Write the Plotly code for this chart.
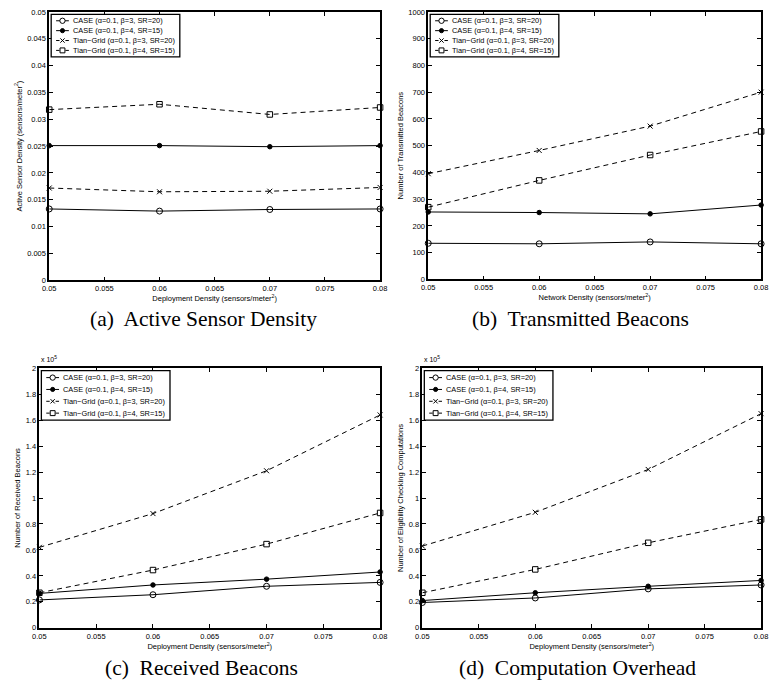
import plotly.graph_objects as go

x_vals = [0.05, 0.06, 0.07, 0.08]
series_names = ["CASE (α=0.1, β=3, SR=20)", "CASE (α=0.1, β=4, SR=15)",
                "Tian−Grid (α=0.1, β=3, SR=20)", "Tian−Grid (α=0.1, β=4, SR=15)"]

# (a) Active sensor density
a_case3 = [0.0133, 0.0129, 0.0132, 0.0133]
a_case4 = [0.0251, 0.0251, 0.0249, 0.0251]
a_tian3 = [0.0172, 0.0165, 0.0166, 0.0173]
a_tian4 = [0.0318, 0.0328, 0.0309, 0.0322]
# (b) Transmitted beacons
b_case3 = [135, 133, 140, 133]
b_case4 = [252, 250, 245, 278]
b_tian3 = [395, 482, 573, 700]
b_tian4 = [270, 370, 465, 553]
# (c) Received beacons (x 10^5)
c_case3 = [0.215, 0.255, 0.32, 0.35]
c_case4 = [0.265, 0.33, 0.375, 0.43]
c_tian3 = [0.62, 0.88, 1.21, 1.64]
c_tian4 = [0.27, 0.445, 0.645, 0.885]
# (d) Computation overhead (x 10^5)
d_case3 = [0.195, 0.23, 0.30, 0.33]
d_case4 = [0.21, 0.27, 0.32, 0.365]
d_tian3 = [0.63, 0.89, 1.22, 1.65]
d_tian4 = [0.27, 0.45, 0.655, 0.835]

x_ticks = [0.05, 0.055, 0.06, 0.065, 0.07, 0.075, 0.08]
x_ticklabels = ["0.05", "0.055", "0.06", "0.065", "0.07", "0.075", "0.08"]

W, H = 774, 695
def px(v):
    return v / W
def py(v):
    return 1 - v / H

# plot boxes in pixels: left, right, top, bottom
panels = [
    dict(data=[a_case3, a_case4, a_tian3, a_tian4], yrange=[0, 0.05], dtick=0.005,
         xtitle="Deployment Density (sensors/meter<sup>2</sup>)",
         ytitle="Active Sensor Density (sensors/meter<sup>2</sup>)",
         caption="(a)  Active Sensor Density", cap=(200, 319),
         box=(43, 380, 8, 280), exp=False, leg_gap=10.0, leg_h=43),
    dict(data=[b_case3, b_case4, b_tian3, b_tian4], yrange=[0, 1000], dtick=100,
         xtitle="Network Density (sensors/meter<sup>2</sup>)",
         ytitle="Number of Transmitted Beacons",
         caption="(b)  Transmitted Beacons", cap=(584, 319),
         box=(429, 768, 8, 279), exp=False, leg_gap=10.0, leg_h=43),
    dict(data=[c_case3, c_case4, c_tian3, c_tian4], yrange=[0, 2], dtick=0.2,
         xtitle="Deployment Density (sensors/meter<sup>2</sup>)",
         ytitle="Number of Received Beacons",
         caption="(c)  Received Beacons", cap=(198, 673),
         box=(33, 380, 369, 632), exp=True, leg_gap=12.0, leg_h=50),
    dict(data=[d_case3, d_case4, d_tian3, d_tian4], yrange=[0, 2], dtick=0.2,
         xtitle="Deployment Density (sensors/meter<sup>2</sup>)",
         ytitle="Number of Eligibility Checking Computations",
         caption="(d)  Computation Overhead", cap=(581, 673),
         box=(423, 768, 369, 632), exp=True, leg_gap=12.0, leg_h=50),
]

styles = [
    dict(dash="solid", symbol="circle-open", size=6),
    dict(dash="solid", symbol="circle", size=4.5),
    dict(dash="5px,4px", symbol="x-thin-open", size=5),
    dict(dash="5px,4px", symbol="square-open", size=5.5),
]

sans = "Liberation Sans, Arial, Helvetica, sans-serif"
axfont = dict(family=sans, size=7.5, color="black")
fig = go.Figure()
shapes = []
annotations = []
layout = dict(width=W, height=H, margin=dict(l=0, r=0, t=0, b=0),
              paper_bgcolor="white", plot_bgcolor="white", showlegend=False,
              font=axfont)

for i, p in enumerate(panels):
    n = "" if i == 0 else str(i + 1)
    xa, ya = "x" + n, "y" + n
    L, R, T, B = p["box"]
    for j, (vals, st) in enumerate(zip(p["data"], styles)):
        fig.add_trace(go.Scatter(
            x=x_vals, y=vals, xaxis=xa, yaxis=ya, name=series_names[j],
            mode="lines+markers", cliponaxis=False,
            line=dict(color="black", width=1, dash=st["dash"]),
            marker=dict(symbol=st["symbol"], size=st["size"], color="black",
                        line=dict(color="black", width=1)),
        ))
    axis_common = dict(showline=True, linecolor="black", linewidth=1.5, mirror="allticks",
                       ticks="inside", ticklen=4, tickcolor="black", showgrid=False,
                       zeroline=False, tickfont=axfont)
    layout["xaxis" + n] = dict(axis_common, domain=[px(L), px(R)], range=[0.05, 0.08],
                               tickvals=x_ticks, ticktext=x_ticklabels,
                               anchor=ya, title=dict(text=p["xtitle"], font=axfont, standoff=2))
    layout["yaxis" + n] = dict(axis_common, domain=[py(B), py(T)], range=p["yrange"],
                               dtick=p["dtick"], tick0=0, anchor=xa,
                               title=dict(text=p["ytitle"], font=axfont, standoff=4))

    # custom legend box (decoration in paper coordinates)
    bl, bt = L + 2, T + 2.5
    bw, bh = 131, p["leg_h"]
    shapes.append(dict(type="rect", xref="paper", yref="paper",
                       x0=px(bl), x1=px(bl + bw), y0=py(bt + bh), y1=py(bt),
                       line=dict(color="black", width=1.3), fillcolor="white", layer="above"))
    first = bt + (bh - 3 * p["leg_gap"]) / 2
    for j, st in enumerate(styles):
        yy = first + j * p["leg_gap"]
        sx0, sx1, mx = bl + 5, bl + 18, bl + 11.5
        if st["dash"] == "solid":
            shapes.append(dict(type="line", xref="paper", yref="paper",
                               x0=px(sx0), x1=px(sx1), y0=py(yy), y1=py(yy),
                               line=dict(color="black", width=1), layer="above"))
        else:
            for a0, a1 in ((sx0, sx0 + 3.5), (sx1 - 3.5, sx1)):
                shapes.append(dict(type="line", xref="paper", yref="paper",
                                   x0=px(a0), x1=px(a1), y0=py(yy), y1=py(yy),
                                   line=dict(color="black", width=1), layer="above"))
        if st["symbol"] == "circle-open":
            r = 2.7
            shapes.append(dict(type="circle", xref="paper", yref="paper",
                               x0=px(mx - r), x1=px(mx + r), y0=py(yy + r), y1=py(yy - r),
                               line=dict(color="black", width=1), fillcolor="white", layer="above"))
        elif st["symbol"] == "circle":
            r = 2.1
            shapes.append(dict(type="circle", xref="paper", yref="paper",
                               x0=px(mx - r), x1=px(mx + r), y0=py(yy + r), y1=py(yy - r),
                               line=dict(color="black", width=1), fillcolor="black", layer="above"))
        elif st["symbol"] == "square-open":
            r = 2.5
            shapes.append(dict(type="rect", xref="paper", yref="paper",
                               x0=px(mx - r), x1=px(mx + r), y0=py(yy + r), y1=py(yy - r),
                               line=dict(color="black", width=1), fillcolor="white", layer="above"))
        else:
            r = 2.2
            for d in (1, -1):
                shapes.append(dict(type="line", xref="paper", yref="paper",
                                   x0=px(mx - r), x1=px(mx + r), y0=py(yy + d * r), y1=py(yy - d * r),
                                   line=dict(color="black", width=1), layer="above"))
        annotations.append(dict(text=series_names[j], xref="paper", yref="paper",
                                x=px(bl + 20), y=py(yy), xanchor="left", yanchor="middle",
                                showarrow=False, font=dict(family=sans, size=7.4, color="black")))

    annotations.append(dict(
        text=p["caption"], xref="paper", yref="paper",
        x=px(p["cap"][0]), y=py(p["cap"][1]), xanchor="center", yanchor="middle",
        showarrow=False, font=dict(family="Liberation Serif, Times New Roman, serif", size=21.5, color="black")))
    if p["exp"]:
        annotations.append(dict(
            text="x 10<sup>5</sup>", xref="paper", yref="paper",
            x=px(L), y=py(T - 3), xanchor="left", yanchor="bottom",
            showarrow=False, font=dict(family=sans, size=7, color="black")))

layout["shapes"] = shapes
layout["annotations"] = annotations
fig.update_layout(**layout)
fig.write_html("out.html", config={"displayModeBar": False},
               post_script="document.body.style.margin='0px';document.body.style.padding='0px';")
